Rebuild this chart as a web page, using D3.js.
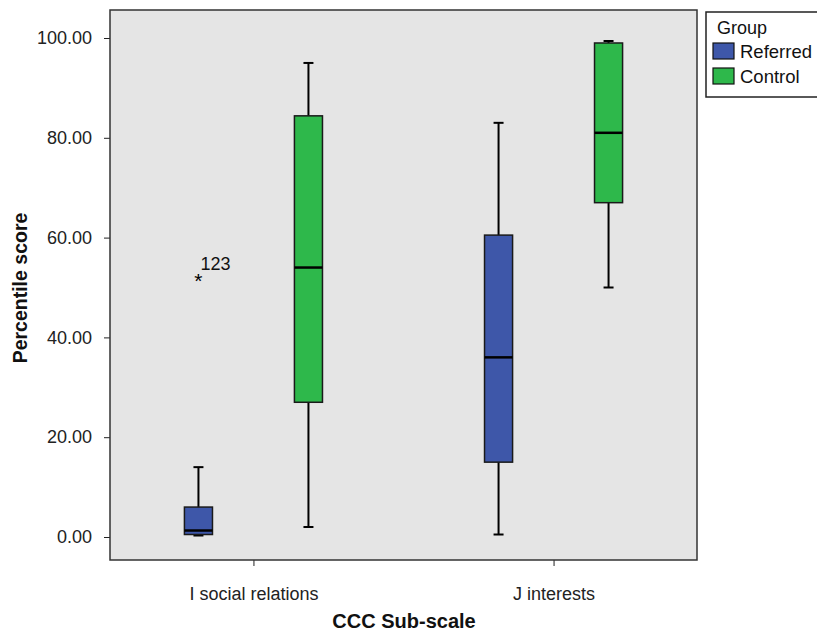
<!DOCTYPE html>
<html>
<head>
<meta charset="utf-8">
<script src="https://cdn.jsdelivr.net/npm/d3@7"></script>
<style>
  html, body { margin: 0; padding: 0; background: #ffffff; }
  svg { display: block; font-family: "Liberation Sans", Arial, sans-serif; }
</style>
</head>
<body>
<svg id="chart" width="817" height="632"></svg>
<script>
// Sub-scales on the x axis and the two groups compared within each
const categories = ["I social relations", "J interests"];
const groups = ["Referred", "Control"];

// Five-number summaries per group, one entry per sub-scale (in category order)
const referredStats = [
  { low: 0.3, q1: 0.5, median: 1.3, q3: 6.0, high: 14.0 },
  { low: 0.5, q1: 15.0, median: 36.0, q3: 60.5, high: 83.0 }
];
const controlStats = [
  { low: 2.0, q1: 27.0, median: 54.0, q3: 84.4, high: 95.0 },
  { low: 50.0, q1: 67.0, median: 81.0, q3: 99.0, high: 99.4 }
];

// Extreme values flagged with their case number
const outliers = [
  { category: "I social relations", group: "Referred", value: 52.0, caseId: "123" }
];

const yTicks = [0, 20, 40, 60, 80, 100];
const groupColors = { Referred: "#3E57A9", Control: "#2EB84B" };

const svg = d3.select("#chart");
const plot = { left: 110, right: 697, top: 10, bottom: 560 };
const FONT = "Liberation Sans, Arial, sans-serif";

const x = d3.scalePoint().domain(categories).range([plot.left, plot.right]).padding(0.478);
const xGroup = d3.scaleBand().domain(groups).range([-110, 110]);
const y = d3.scaleLinear().domain([0, 100]).range([537, 38]);
const boxWidth = xGroup.bandwidth() * 0.255;

// Plot background
svg.append("rect")
  .attr("x", plot.left).attr("y", plot.top)
  .attr("width", plot.right - plot.left).attr("height", plot.bottom - plot.top)
  .attr("fill", "#E5E5E5");

// Y axis
const yAxis = svg.append("g")
  .attr("transform", `translate(${plot.left},0)`)
  .call(d3.axisLeft(y).tickValues(yTicks).tickFormat(d3.format(".2f")).tickSize(6).tickPadding(12));
yAxis.select(".domain").remove();
yAxis.selectAll("text").attr("font-size", 18).attr("fill", "#222").attr("font-family", FONT);
yAxis.selectAll("line").attr("stroke", "#222");

// X axis
const xAxis = svg.append("g")
  .attr("transform", `translate(0,${plot.bottom})`)
  .call(d3.axisBottom(x).tickSize(6).tickPadding(21));
xAxis.select(".domain").remove();
xAxis.selectAll("text").attr("font-size", 18).attr("fill", "#222").attr("font-family", FONT);
xAxis.selectAll("line").attr("stroke", "#222");

// Box plots
const seriesByGroup = { Referred: referredStats, Control: controlStats };
const boxes = [];
categories.forEach((c, i) => {
  groups.forEach(g => boxes.push({ category: c, group: g, ...seriesByGroup[g][i] }));
});

const capHalf = 5;
const boxG = svg.append("g").selectAll("g").data(boxes).join("g")
  .attr("transform", d => `translate(${x(d.category) + xGroup(d.group) + xGroup.bandwidth() / 2},0)`);

// whiskers
boxG.append("line")
  .attr("x1", 0).attr("x2", 0)
  .attr("y1", d => y(d.high)).attr("y2", d => y(d.q3))
  .attr("stroke", "#000").attr("stroke-width", 2);
boxG.append("line")
  .attr("x1", 0).attr("x2", 0)
  .attr("y1", d => y(d.q1)).attr("y2", d => y(d.low))
  .attr("stroke", "#000").attr("stroke-width", 2);
boxG.append("line")
  .attr("x1", -capHalf).attr("x2", capHalf)
  .attr("y1", d => y(d.high)).attr("y2", d => y(d.high))
  .attr("stroke", "#000").attr("stroke-width", 2);
boxG.append("line")
  .attr("x1", -capHalf).attr("x2", capHalf)
  .attr("y1", d => y(d.low)).attr("y2", d => y(d.low))
  .attr("stroke", "#000").attr("stroke-width", 2);

// box
boxG.append("rect")
  .attr("x", -boxWidth / 2).attr("width", boxWidth)
  .attr("y", d => y(d.q3)).attr("height", d => y(d.q1) - y(d.q3))
  .attr("fill", d => groupColors[d.group])
  .attr("stroke", "#1a1a1a").attr("stroke-width", 1.5);

// median
boxG.append("line")
  .attr("x1", -boxWidth / 2).attr("x2", boxWidth / 2)
  .attr("y1", d => y(d.median)).attr("y2", d => y(d.median))
  .attr("stroke", "#000").attr("stroke-width", 2.5);

// Outlier markers with case labels
const outG = svg.append("g").selectAll("g").data(outliers).join("g")
  .attr("transform", d => `translate(${x(d.category) + xGroup(d.group) + xGroup.bandwidth() / 2},${y(d.value)})`);
outG.append("text")
  .attr("text-anchor", "middle").attr("dy", 10)
  .attr("font-size", 21).attr("fill", "#000")
  .text("*");
outG.append("text")
  .attr("x", 2).attr("y", -8)
  .attr("font-size", 18).attr("fill", "#111")
  .text(d => d.caseId);

// Plot frame
svg.append("rect")
  .attr("x", plot.left).attr("y", plot.top)
  .attr("width", plot.right - plot.left).attr("height", plot.bottom - plot.top)
  .attr("fill", "none").attr("stroke", "#333").attr("stroke-width", 1.5);

// Axis titles
svg.append("text")
  .attr("transform", `translate(27,${(plot.top + plot.bottom) / 2 + 3}) rotate(-90)`)
  .attr("text-anchor", "middle")
  .attr("font-size", 19.5).attr("font-weight", "bold").attr("fill", "#111")
  .text("Percentile score");
svg.append("text")
  .attr("x", 404).attr("y", 628)
  .attr("text-anchor", "middle")
  .attr("font-size", 20).attr("font-weight", "bold").attr("fill", "#111")
  .text("CCC Sub-scale");

// Legend
const legend = svg.append("g").attr("transform", "translate(706,12)");
legend.append("rect")
  .attr("x", 0).attr("y", 0).attr("width", 112).attr("height", 85)
  .attr("fill", "#fff").attr("stroke", "#222").attr("stroke-width", 1.5);
legend.append("text")
  .attr("x", 36).attr("y", 22).attr("text-anchor", "middle")
  .attr("font-size", 18).attr("fill", "#111")
  .text("Group");
const items = legend.selectAll("g.item").data(groups).join("g")
  .attr("class", "item")
  .attr("transform", (d, i) => `translate(7,${31 + i * 25})`);
items.append("rect")
  .attr("width", 21).attr("height", 16)
  .attr("fill", d => groupColors[d])
  .attr("stroke", "#111").attr("stroke-width", 1.2);
items.append("text")
  .attr("x", 27).attr("y", 15)
  .attr("font-size", 18.5).attr("fill", "#111")
  .text(d => d);
</script>
</body>
</html>
